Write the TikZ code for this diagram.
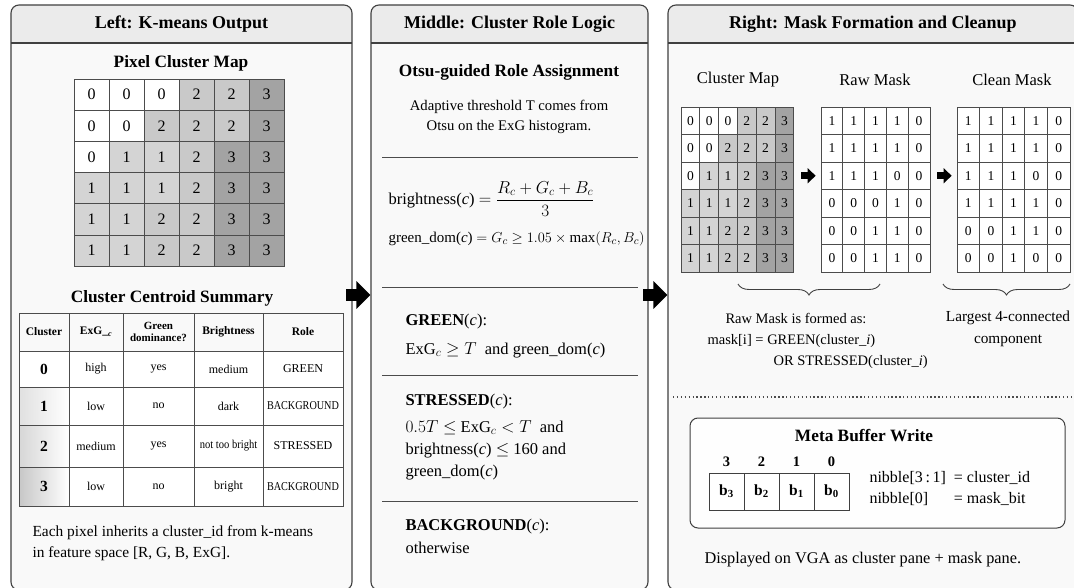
\documentclass[tikz,border=0pt]{standalone}
\usepackage{fontspec}
\setmainfont{Liberation Serif}
\usepackage{amsmath}
\usepackage{graphicx}
\usetikzlibrary{arrows.meta,decorations.pathreplacing,calc,fit}
\newcommand\fs[2]{\fontsize{#1}{#2}\selectfont}
\newcommand\squeeze[2]{\scalebox{#1}[1]{#2}}
\definecolor{k0}{gray}{1.0}
\definecolor{k1}{gray}{0.83}
\definecolor{k2}{gray}{0.79}
\definecolor{k3}{gray}{0.64}
\definecolor{cf0}{gray}{1.0}
\definecolor{cf1}{gray}{0.88}
\definecolor{cf2}{gray}{0.84}
\definecolor{cf3}{gray}{0.78}
\definecolor{bodyfill}{gray}{0.975}
\definecolor{hdrfill}{gray}{0.92}
\newcommand\mkpanel[4]{%
  \fill[bodyfill, rounded corners=8pt] (#2,5) rectangle (#3,590);
  \begin{scope}
    \clip[rounded corners=8pt] (#2,5) rectangle (#3,590);
    \fill[hdrfill] (#2,5) rectangle (#3,43);
  \end{scope}
  \node[draw=black!75, line width=1.1pt, rounded corners=8pt, inner sep=0pt, fit={(#2,5) (#3,590)}] (#1) {};
  \draw[black!75, line width=1.1pt] (#2,43) -- (#3,43);
  \node[ttl] (#1-title) at ({(#2+#3)/2},24) {#4};
}
\begin{document}
\begin{tikzpicture}[x=1pt,y=-1pt,
  ttl/.style={font=\bfseries\fs{18}{21}},
  sub/.style={font=\bfseries\fs{17.3}{20}},
  mth/.style={font=\fs{16.5}{19}},
  bigarrow/.style={line width=12pt,-{Triangle[length=14pt,width=27pt]}},
  smallarrow/.style={line width=7pt,-{Triangle[length=8pt,width=15pt]}},
  lcell/.style={draw=black!70,line width=0.8pt,minimum width=35pt,minimum height=31.2pt,inner sep=0pt,font=\fs{16}{18}},
  rcell/.style={draw=black!70,line width=0.8pt,minimum height=27.5pt,inner sep=0pt,font=\fs{13.5}{16}},
  tcell/.style={draw=black!70,line width=0.8pt,inner sep=0pt,align=center,font=\fs{12}{14}},
  thead/.style={tcell,font=\bfseries\fs{11.5}{13}},
  divider/.style={draw=black!70,line width=0.9pt},
  bracestyle/.style={draw=black!75,line width=0.9pt,decorate,decoration={brace,mirror,amplitude=11pt}}
]
\useasboundingbox (0,0) rectangle (1074,588);
\fill[white] (0,0) rectangle (1074,588);

% ---------- panels ----------
\mkpanel{L}{11}{352}{Left: K-means Output}
\mkpanel{M}{371}{648}{Middle: Cluster Role Logic}
\mkpanel{R}{668}{1078}{Right: Mask Formation and Cleanup}

% ---------- arrows between panels ----------
\coordinate (a1s) at (346,295);
\coordinate (a2s) at (643,295);
\draw[bigarrow] (a1s) -- (M.west |- a1s);
\draw[bigarrow] (a2s) -- (R.west |- a2s);

% ---------- LEFT ----------
\node[sub] (pcm) at (181,63) {Pixel Cluster Map};
\foreach \row [count=\r from 0] in {{0,0,0,2,2,3},{0,0,2,2,2,3},{0,1,1,2,3,3},{1,1,1,2,3,3},{1,1,2,2,3,3},{1,1,2,2,3,3}}{
  \foreach \v [count=\c from 0] in \row {
    \node[lcell, fill=k\v] (lg-\r-\c) at ({91.5+35*\c},{94.6+31.2*\r}) {\v};
  }
}
\node[sub] (ccs) at (172,298) {Cluster Centroid Summary};
\node[thead, minimum width=50, minimum height=38] (th-0) at (44,332) {Cluster};
\node[thead, minimum width=54, minimum height=38] (th-1) at (96,332) {ExG\_\textsubscript{\textit{c}}};
\node[thead, minimum width=71, minimum height=38, font=\bfseries\fs{11}{12.5}] (th-2) at (158.5,332) {Green\\dominance?};
\node[thead, minimum width=69, minimum height=38] (th-3) at (228.5,332) {Brightness};
\node[thead, minimum width=80, minimum height=38] (th-4) at (303,332) {Role};
\foreach \n/\y/\h/\B/\C/\D/\E in {
  0/369/36/high/yes/medium/GREEN,
  1/406/38/low/no/dark/{\squeeze{0.85}{BACKGROUND}},
  2/446/42/medium/yes/{\squeeze{0.88}{not too bright}}/STRESSED,
  3/486.5/39/low/no/bright/{\squeeze{0.85}{BACKGROUND}}}{
  \node[tcell, minimum width=50, minimum height=\h, left color=cf\n, right color=white, font=\bfseries\fs{15.5}{17}] (t\n-0) at (44,\y) {\n};
  \node[tcell, minimum width=54, minimum height=\h, fill=white] (t\n-1) at (96,\y) {\B};
  \node[tcell, minimum width=71, minimum height=\h, fill=white] (t\n-2) at (158.5,\y) {\C};
  \node[tcell, minimum width=69, minimum height=\h, fill=white] (t\n-3) at (228.5,\y) {\D};
  \node[tcell, minimum width=80, minimum height=\h, fill=white] (t\n-4) at (303,\y) {\E};
}
\node[anchor=west, align=left, font=\fs{15.4}{21}] (lnote) at (29,543) {Each pixel inherits a cluster\_id from k-means\\in feature space [R, G, B, ExG].};

% ---------- MIDDLE ----------
\node[sub] (otsu) at (509,72) {Otsu-guided Role Assignment};
\node[align=center, font=\fs{14.7}{20}] (adapt) at (509,117) {Adaptive threshold T comes from\\Otsu on the ExG histogram.};
\draw[divider] (382,157) -- (638,157);
\node[anchor=west, mth] (bright) at (385,199) {brightness(\textit{c}) $=\dfrac{R_c+G_c+B_c}{3}$};
\node[anchor=west, font=\fs{15}{18}] (gdom) at (385,239) {green\_dom(\textit{c}) $= G_c \geq 1.05\times\max(R_c,B_c)$};
\draw[divider] (382,287) -- (638,287);
\node[anchor=west, mth] (greenh) at (402,322) {\textbf{GREEN}(\textit{c}):};
\node[anchor=west, mth] (greent) at (402,350) {ExG$_c \geq T$\ \ and green\_dom(\textit{c})};
\draw[divider] (382,375) -- (638,375);
\node[anchor=west, mth] (stresh) at (402,402) {\textbf{STRESSED}(\textit{c}):};
\node[anchor=west, align=left, font=\fs{16.5}{22}] (strest) at (402,450) {$0.5T \leq$ ExG$_c < T$\ \ and\\brightness(\textit{c}) $\leq$ 160 and\\green\_dom(\textit{c})};
\draw[divider] (382,501) -- (638,501);
\node[anchor=west, mth] (bgh) at (402,527) {\textbf{BACKGROUND}(\textit{c}):};
\node[anchor=west, mth] (bgt) at (402,548) {otherwise};

% ---------- RIGHT ----------
\node[font=\fs{16.5}{20}] (cmlab) at (738,80) {Cluster Map};
\node[font=\fs{16.5}{20}] (rmlab) at (875,80) {Raw Mask};
\node[font=\fs{16.5}{20}] (cllab) at (1012,80) {Clean Mask};
\foreach \row [count=\r from 0] in {{0,0,0,2,2,3},{0,0,2,2,2,3},{0,1,1,2,3,3},{1,1,1,2,3,3},{1,1,2,2,3,3},{1,1,2,2,3,3}}{
  \foreach \v [count=\c from 0] in \row {
    \node[rcell, minimum width=18.8, fill=k\v] (cm-\r-\c) at ({690.4+18.8*\c},{120.75+27.5*\r}) {\v};
  }
}
\foreach \row [count=\r from 0] in {{1,1,1,1,0},{1,1,1,1,0},{1,1,1,0,0},{0,0,0,1,0},{0,0,1,1,0},{0,0,1,1,0}}{
  \foreach \v [count=\c from 0] in \row {
    \node[rcell, minimum width=21.8, fill=white] (rm-\r-\c) at ({831.9+21.8*\c},{120.75+27.5*\r}) {\v};
  }
}
\foreach \row [count=\r from 0] in {{1,1,1,1,0},{1,1,1,1,0},{1,1,1,0,0},{1,1,1,1,0},{0,0,1,1,0},{0,0,1,0,0}}{
  \foreach \v [count=\c from 0] in \row {
    \node[rcell, minimum width=22.6, fill=white] (cl-\r-\c) at ({968.3+22.6*\c},{120.75+27.5*\r}) {\v};
  }
}
\draw[smallarrow] ([xshift=7pt]cm-2-5.east) -- ([xshift=-5pt]rm-2-0.west);
\draw[smallarrow] ([xshift=7pt]rm-2-4.east) -- ([xshift=-5pt]cl-2-0.west);

\draw[bracestyle] (738,284) -- (880,284);
\draw[bracestyle] (943,284) -- (1070,284);
\node[font=\fs{14.5}{18}] (rmf1) at (796,318) {Raw Mask is formed as:};
\node[anchor=west, font=\fs{14.5}{18}] (rmf2) at (704,341) {mask[i] = GREEN(cluster\_\textit{i})};
\node[anchor=west, font=\fs{14.5}{18}] (rmf3) at (770,362) {OR STRESSED(cluster\_\textit{i})};
\node[align=center, font=\fs{15.3}{22}] (lcc) at (1008,329) {Largest 4-connected\\component};

\draw[black!70, line width=1.3pt, dash pattern=on 1.3pt off 2.6pt] (673,397) -- (1074,397);

\node[draw=black!75, line width=1pt, rounded corners=8pt, fill=gray!1, inner sep=0pt, fit={(690,418) (1065,528)}] (mb) {};
\node[sub] (mbt) at (864,436) {Meta Buffer Write};
\foreach \b [count=\i from 0] in {3,2,1,0}{
  \node[font=\bfseries\fs{14.5}{16}] (bl\b) at ({726.5+35*\i},462) {\b};
  \node[draw=black!75, line width=0.9pt, minimum width=35, minimum height=37, inner sep=0pt, fill=white, font=\bfseries\fs{15.5}{17}] (bc\b) at ({726.5+35*\i},491.5) {b\textsubscript{\b}};
}
\node[anchor=west, font=\fs{16}{21}] (nib) at (866,489) {\begin{tabular}{@{}l@{\ \ }l@{}}nibble[3\,:\,1] & = cluster\_id\\ nibble[0] & = mask\_bit\end{tabular}};
\node[anchor=west, font=\fs{16.3}{18}] (disp) at (701,560) {Displayed on VGA as cluster pane + mask pane.};
\end{tikzpicture}
\end{document}
